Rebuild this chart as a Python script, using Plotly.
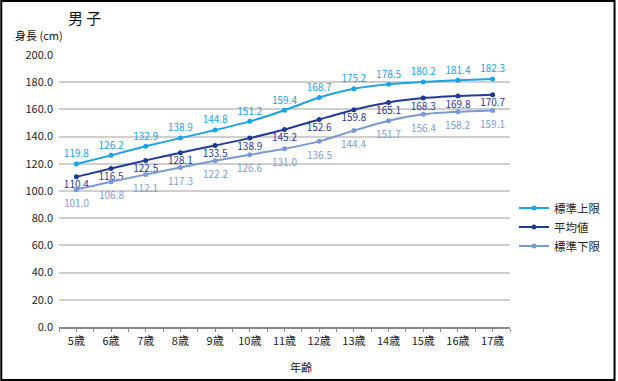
import plotly.graph_objects as go

ages = ["5歳", "6歳", "7歳", "8歳", "9歳", "10歳", "11歳", "12歳", "13歳", "14歳", "15歳", "16歳", "17歳"]
upper = [119.8, 126.2, 132.9, 138.9, 144.8, 151.2, 159.4, 168.7, 175.2, 178.5, 180.2, 181.4, 182.3]
mean = [110.4, 116.5, 122.5, 128.1, 133.5, 138.9, 145.2, 152.6, 159.8, 165.1, 168.3, 169.8, 170.7]
lower = [101.0, 106.8, 112.1, 117.3, 122.2, 126.6, 131.0, 136.5, 144.4, 151.7, 156.4, 158.2, 159.1]
yticks = [0, 20, 40, 60, 80, 100, 120, 140, 160, 180, 200]

FONT = "Noto Sans CJK JP, Noto Sans, sans-serif"
W, H = 618, 381
ML, MR, MT, MB = 59, 106, 55, 54

xs = list(range(len(ages)))
C_UP, C_MEAN, C_LOW = "#1aa3e6", "#1f3c94", "#7a9ad6"
SMOOTH = 0.6

fig = go.Figure()
fig.add_trace(go.Scatter(
    x=xs, y=upper, name="標準上限", mode="lines+markers+text",
    line=dict(color=C_UP, width=2, shape="spline", smoothing=SMOOTH),
    marker=dict(color=C_UP, size=5),
    text=[f"{v:.1f}" for v in upper], textposition="top center",
    textfont=dict(family=FONT, size=10, color=C_UP), cliponaxis=False))
fig.add_trace(go.Scatter(
    x=xs, y=mean, name="平均値", mode="lines+markers+text",
    line=dict(color=C_MEAN, width=2, shape="spline", smoothing=SMOOTH),
    marker=dict(color=C_MEAN, size=5),
    text=[f"{v:.1f}" for v in mean], textposition="bottom center",
    textfont=dict(family=FONT, size=10, color=C_MEAN), cliponaxis=False))
fig.add_trace(go.Scatter(
    x=xs, y=lower, name="標準下限", mode="lines+markers",
    line=dict(color=C_LOW, width=2, shape="spline", smoothing=SMOOTH),
    marker=dict(color=C_LOW, size=5),
    cliponaxis=False))

annotations = [
    dict(x=x, y=v, xref="x", yref="y", text=f"{v:.1f}", showarrow=False,
         xanchor="center", yanchor="middle", yshift=-13,
         font=dict(family=FONT, size=10, color="#7f9dd6"))
    for x, v in zip(xs, lower)
]

tickvals, ticktext = [], []
for i, a in enumerate(ages):
    tickvals += [i - 0.5, i]
    ticktext += ["", a]
tickvals.append(len(ages) - 0.5)
ticktext.append("")

pw, ph = W - ML - MR, H - MT - MB
annotations += [
    dict(text="男 子", xref="paper", yref="paper",
         x=(85 - ML) / pw, y=1 + (MT - 17) / ph,
         xanchor="center", yanchor="middle", showarrow=False,
         font=dict(family=FONT, size=15, color="#111")),
    dict(text="身長 (cm)", xref="paper", yref="paper",
         x=(13 - ML) / pw, y=1 + (MT - 35) / ph,
         xanchor="left", yanchor="middle", showarrow=False,
         font=dict(family=FONT, size=11, color="#111")),
    dict(text="年齢", xref="paper", yref="paper",
         x=(302 - ML) / pw, y=-(367 - (H - MB)) / ph,
         xanchor="center", yanchor="middle", showarrow=False,
         font=dict(family=FONT, size=11, color="#111")),
]

fig.update_layout(
    width=W, height=H,
    margin=dict(l=ML, r=MR, t=MT, b=MB),
    paper_bgcolor="white", plot_bgcolor="white",
    font=dict(family=FONT, size=11, color="#222"),
    showlegend=True,
    legend=dict(x=1 + 4 / pw, y=(H - MB - 227) / ph, xanchor="left", yanchor="middle",
                font=dict(family=FONT, size=11.5, color="#222"),
                tracegroupgap=0, itemwidth=30, bgcolor="rgba(0,0,0,0)"),
    xaxis=dict(range=[-0.5, len(ages) - 0.5], tickmode="array",
               tickvals=tickvals, ticktext=ticktext,
               ticks="outside", ticklen=3, tickcolor="#888", tickwidth=1,
               showline=True, linecolor="#888", linewidth=1.5,
               showgrid=False, zeroline=False,
               tickfont=dict(family=FONT, size=11, color="#222")),
    xaxis2=dict(overlaying="x", anchor="y", side="bottom",
                range=[-0.5, len(ages) - 0.5], tickmode="array",
                tickvals=tickvals, ticktext=[""] * len(tickvals),
                ticks="inside", ticklen=3, tickcolor="#888", tickwidth=1,
                showline=False, showgrid=False, zeroline=False),
    yaxis=dict(range=[0, 200], tickmode="array", tickvals=yticks,
               ticktext=[f"{v:.1f}" for v in yticks],
               showgrid=True, gridcolor="#cfcfcf", gridwidth=1.5,
               showline=False, zeroline=False, ticks="", ticklen=0,
               ticklabelstandoff=5,
               tickfont=dict(family=FONT, size=11, color="#222")),
    annotations=annotations,
)
fig.add_shape(type="rect", xref="paper", yref="paper",
              x0=-(ML - 1) / pw, x1=1 + (MR - 1) / pw,
              y0=-(MB - 1) / ph, y1=1 + (MT - 1) / ph,
              line=dict(color="black", width=2), layer="above")

fig.write_html("out.html", config={"displayModeBar": False},
               post_script="document.body.style.margin='0';document.body.style.padding='0';document.body.style.overflow='hidden';")
